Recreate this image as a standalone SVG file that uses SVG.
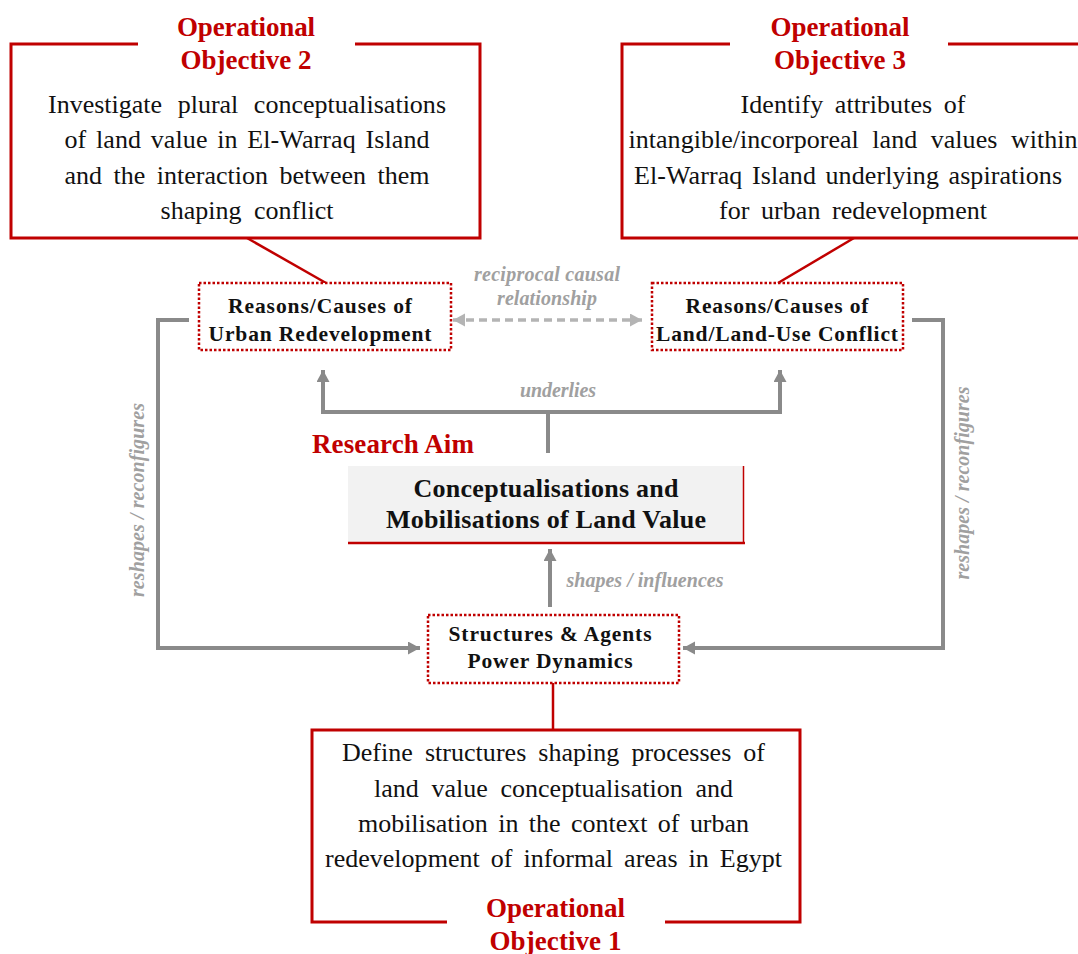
<svg xmlns="http://www.w3.org/2000/svg" width="1078" height="954" viewBox="0 0 1078 954">
  <style>
    .frame { fill: none; stroke: #c00000; stroke-width: 3; }
    .dotted { fill: #ffffff; stroke: #c00000; stroke-width: 2.5; stroke-dasharray: 2.5 2; }
    .redline { fill: none; stroke: #c00000; stroke-width: 2.5; }
    .conn { fill: none; stroke: #8a8a8a; stroke-width: 4; }
    .dash { fill: none; stroke: #b4b4b4; stroke-width: 3.5; stroke-dasharray: 8 5; }
    .title { font-family: "Liberation Serif", "Times New Roman", serif; font-weight: bold; font-size: 27px; fill: #c00000; text-anchor: middle; }
    .body { font-family: "Liberation Serif", "Times New Roman", serif; font-size: 26px; fill: #111111; text-anchor: middle; }
    .node { font-family: "Liberation Serif", "Times New Roman", serif; font-weight: bold; font-size: 21.5px; fill: #111111; text-anchor: middle; }
    .aim { font-family: "Liberation Serif", "Times New Roman", serif; font-weight: bold; font-size: 26px; fill: #111111; text-anchor: middle; }
    .lbl { font-family: "Liberation Serif", "Times New Roman", serif; font-weight: bold; font-style: italic; font-size: 20px; fill: #a0a0a0; text-anchor: middle; }
  </style>
  <defs>
    <marker id="arrow" markerUnits="userSpaceOnUse" markerWidth="14" markerHeight="14" refX="12" refY="6.5" orient="auto-start-reverse">
      <path d="M0,0 L12,6.5 L0,13 z" fill="#8a8a8a"/>
    </marker>
    <marker id="arrowLight" markerUnits="userSpaceOnUse" markerWidth="14" markerHeight="14" refX="12" refY="6.5" orient="auto-start-reverse">
      <path d="M0,0 L12,6.5 L0,13 z" fill="#b4b4b4"/>
    </marker>
  </defs>

  <rect width="1078" height="954" fill="#ffffff"/>

  <!-- connectors -->
  <g id="connectors">
    <!-- objective frames to their nodes -->
    <line class="redline" x1="247" y1="238" x2="326" y2="283"/>
    <line class="redline" x1="854" y1="238" x2="778" y2="283"/>
    <line class="redline" x1="553" y1="683" x2="553" y2="730"/>
    <!-- reciprocal causal relationship -->
    <line class="dash" x1="453" y1="320" x2="642" y2="320" marker-start="url(#arrowLight)" marker-end="url(#arrowLight)"/>
    <!-- underlies -->
    <path class="conn" d="M548,453 V412"/>
    <path class="conn" d="M548,412 H323 V370" marker-end="url(#arrow)"/>
    <path class="conn" d="M548,412 H780 V370" marker-end="url(#arrow)"/>
    <!-- shapes / influences -->
    <path class="conn" d="M550,607 V549" marker-end="url(#arrow)"/>
    <!-- reshapes / reconfigures loops -->
    <path class="conn" d="M189,320 H158 V648 H420" marker-end="url(#arrow)"/>
    <path class="conn" d="M912,320 H943 V648 H683" marker-end="url(#arrow)"/>

    <text class="lbl" x="547" y="281" textLength="146" lengthAdjust="spacing">reciprocal causal</text>
    <text class="lbl" x="547" y="305" textLength="100" lengthAdjust="spacing">relationship</text>
    <text class="lbl" x="558" y="397" textLength="76" lengthAdjust="spacing">underlies</text>
    <text class="lbl" x="645" y="587" textLength="157" lengthAdjust="spacing">shapes / influences</text>
    <text class="lbl" transform="translate(144,500) rotate(-90)" textLength="194" lengthAdjust="spacing">reshapes / reconfigures</text>
    <text class="lbl" transform="translate(969,483) rotate(-90)" textLength="193" lengthAdjust="spacing">reshapes / reconfigures</text>
  </g>

  <!-- Operational Objective 2 -->
  <g id="objective2">
    <path class="frame" d="M138,44 H11 V238 H480 V44 H355"/>
    <text class="title" x="246" y="36" textLength="138" lengthAdjust="spacing">Operational</text>
    <text class="title" x="246" y="69" textLength="131" lengthAdjust="spacing">Objective 2</text>
    <text class="body" x="247" y="113" word-spacing="9" textLength="398" lengthAdjust="spacing">Investigate plural conceptualisations</text>
    <text class="body" x="247" y="148" word-spacing="3" textLength="365" lengthAdjust="spacing">of land value in El-Warraq Island</text>
    <text class="body" x="247" y="184" word-spacing="5" textLength="365" lengthAdjust="spacing">and the interaction between them</text>
    <text class="body" x="247" y="219" word-spacing="6" textLength="173" lengthAdjust="spacing">shaping conflict</text>
  </g>

  <!-- Operational Objective 3 -->
  <g id="objective3">
    <path class="frame" d="M730,44 H622 V238 H1090 M1090,44 H948"/>
    <text class="title" x="840" y="36" textLength="139" lengthAdjust="spacing">Operational</text>
    <text class="title" x="840" y="69" textLength="132" lengthAdjust="spacing">Objective 3</text>
    <text class="body" x="853" y="113" word-spacing="5" textLength="225" lengthAdjust="spacing">Identify attributes of</text>
    <text class="body" x="853" y="148" word-spacing="7" textLength="449" lengthAdjust="spacing">intangible/incorporeal land values within</text>
    <text class="body" x="848" y="184" word-spacing="3" textLength="428" lengthAdjust="spacing">El-Warraq Island underlying aspirations</text>
    <text class="body" x="853" y="219" word-spacing="5" textLength="268" lengthAdjust="spacing">for urban redevelopment</text>
  </g>

  <!-- Reasons/Causes of Urban Redevelopment -->
  <g id="urbanRedevelopment">
    <rect class="dotted" x="199" y="283" width="252" height="67"/>
    <text class="node" x="320" y="313" textLength="184" lengthAdjust="spacing">Reasons/Causes of</text>
    <text class="node" x="320" y="341" textLength="223" lengthAdjust="spacing">Urban Redevelopment</text>
  </g>

  <!-- Reasons/Causes of Land/Land-Use Conflict -->
  <g id="landConflict">
    <rect class="dotted" x="652" y="283" width="251" height="67"/>
    <text class="node" x="777" y="313" textLength="183" lengthAdjust="spacing">Reasons/Causes of</text>
    <text class="node" x="777" y="341" textLength="242" lengthAdjust="spacing">Land/Land-Use Conflict</text>
  </g>

  <!-- Research Aim -->
  <g id="researchAim">
    <text class="title" x="393" y="453" font-size="26" textLength="162" lengthAdjust="spacing">Research Aim</text>
    <rect x="348" y="466" width="396" height="77" fill="#f2f2f2"/>
    <line x1="743.5" y1="466" x2="743.5" y2="543" stroke="#c00000" stroke-width="1.5"/>
    <line x1="348" y1="543" x2="745" y2="543" stroke="#c00000" stroke-width="2.5"/>
    <text class="aim" x="546" y="497" textLength="265" lengthAdjust="spacing">Conceptualisations and</text>
    <text class="aim" x="546" y="528" textLength="320" lengthAdjust="spacing">Mobilisations of Land Value</text>
  </g>

  <!-- Structures & Agents Power Dynamics -->
  <g id="structures">
    <rect class="dotted" x="428" y="615" width="251" height="68"/>
    <text class="node" x="550" y="641" textLength="203" lengthAdjust="spacing">Structures &amp; Agents</text>
    <text class="node" x="550" y="668" textLength="165" lengthAdjust="spacing">Power Dynamics</text>
  </g>

  <!-- Operational Objective 1 -->
  <g id="objective1">
    <path class="frame" d="M447,922 H312 V730 H800 V922 H665"/>
    <text class="body" x="553.5" y="761" word-spacing="5.5" textLength="423" lengthAdjust="spacing">Define structures shaping processes of</text>
    <text class="body" x="553.5" y="797" word-spacing="6" textLength="359" lengthAdjust="spacing">land value conceptualisation and</text>
    <text class="body" x="553.5" y="832" word-spacing="4" textLength="391" lengthAdjust="spacing">mobilisation in the context of urban</text>
    <text class="body" x="553.5" y="867" word-spacing="4.5" textLength="457" lengthAdjust="spacing">redevelopment of informal areas in Egypt</text>
    <text class="title" x="555.5" y="917" textLength="139" lengthAdjust="spacing">Operational</text>
    <text class="title" x="555.5" y="950" textLength="132" lengthAdjust="spacing">Objective 1</text>
  </g>
</svg>
